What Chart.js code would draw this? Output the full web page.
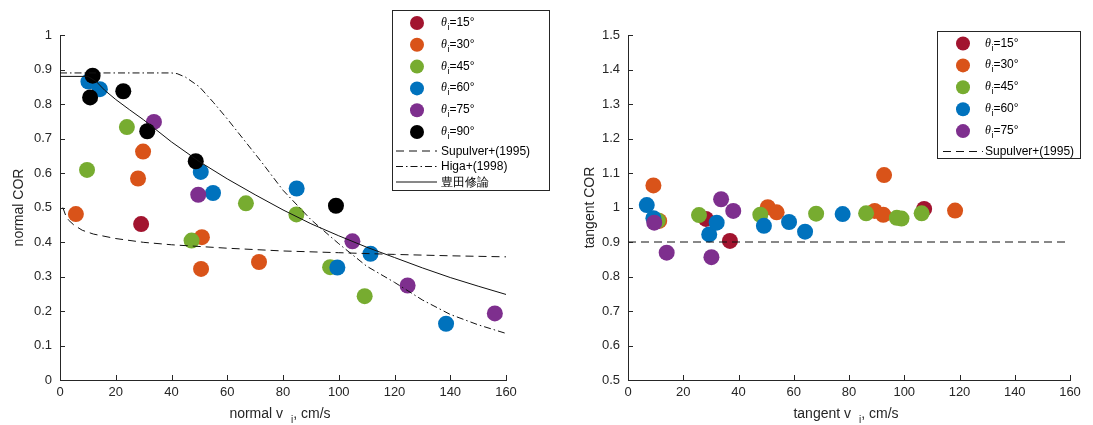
<!DOCTYPE html>
<html>
<head>
<meta charset="utf-8">
<script src="https://cdn.jsdelivr.net/npm/chart.js@4.4.1/dist/chart.umd.min.js"></script>
<style>
  body { margin: 0; background: #fff; }
  #wrap { position: relative; width: 1093px; height: 425px; overflow: hidden; }
  .panel { position: absolute; top: 0; height: 425px; }
</style>
</head>
<body>
<div id="wrap">
  <div class="panel" style="left:0;width:560px"><canvas id="normalChart"></canvas></div>
  <div class="panel" style="left:560px;width:533px"><canvas id="tangentChart"></canvas></div>
</div>
<script>
// incidence angles and their colours
const angleNames = ["15", "30", "45", "60", "75", "90"];
const angleColors = ["#A2142F", "#D95319", "#77AC30", "#0072BD", "#7E2F8E", "#000000"];

// normal COR vs normal v_i  [v, cor]
const normal15 = [[29.1, 0.452]];
const normal30 = [[5.7, 0.481], [29.8, 0.662], [28.0, 0.584], [50.9, 0.414], [50.6, 0.322], [71.4, 0.342]];
const normal45 = [[9.7, 0.609], [24.0, 0.733], [47.2, 0.404], [66.7, 0.512], [84.8, 0.480], [96.9, 0.327], [109.3, 0.243]];
const normal60 = [[10.2, 0.865], [14.3, 0.843], [50.5, 0.603], [54.9, 0.542], [84.9, 0.555], [111.4, 0.366], [99.5, 0.326], [138.5, 0.163]];
const normal75 = [[33.7, 0.748], [49.6, 0.537], [104.9, 0.402], [124.7, 0.274], [156.0, 0.193]];
const normal90 = [[11.7, 0.882], [10.8, 0.819], [22.7, 0.837], [31.3, 0.721], [48.7, 0.634], [99.0, 0.505]];

// tangent COR vs tangent v_i  [v, cor]
const tangent15 = [[28.2, 0.967], [36.9, 0.903], [107.2, 0.996]];
const tangent30 = [[9.2, 1.064], [11.3, 0.961], [50.6, 1.001], [53.8, 0.986], [89.3, 0.990], [92.7, 1.094], [92.4, 0.979], [118.4, 0.991]];
const tangent45 = [[10.8, 0.962], [25.7, 0.978], [47.9, 0.979], [68.1, 0.982], [86.2, 0.983], [97.3, 0.970], [99.0, 0.968], [106.3, 0.983]];
const tangent60 = [[6.8, 1.007], [9.2, 0.969], [29.4, 0.922], [32.1, 0.956], [49.2, 0.947], [58.3, 0.958], [64.1, 0.930], [77.7, 0.981]];
const tangent75 = [[9.5, 0.956], [14.0, 0.869], [30.2, 0.856], [33.7, 1.024], [38.1, 0.990]];

// model curves
const supulverV = [1, 2, 3, 5, 8, 12, 20, 30, 40, 60, 80, 100, 120, 140, 160];
const supulverCor = [0.50, 0.478, 0.464, 0.449, 0.434, 0.423, 0.410, 0.399, 0.392, 0.382, 0.374, 0.369, 0.364, 0.360, 0.357];
const higaV = [0, 20, 40, 42, 45, 50, 55, 60, 66, 72, 80, 90, 100, 110, 120, 130, 140, 150, 160];
const higaCor = [0.89, 0.89, 0.89, 0.888, 0.878, 0.85, 0.805, 0.757, 0.696, 0.635, 0.55, 0.465, 0.395, 0.33, 0.283, 0.232, 0.19, 0.16, 0.135];
const toyodaV = [0, 10, 13, 16, 20, 25, 30, 40, 50, 60, 70, 80, 90, 100, 110, 120, 130, 140, 150, 160];
const toyodaCor = [0.88, 0.88, 0.865, 0.84, 0.813, 0.783, 0.754, 0.69, 0.633, 0.583, 0.537, 0.493, 0.453, 0.418, 0.385, 0.355, 0.325, 0.297, 0.272, 0.248];
const supulverTanV = [0, 160];
const supulverTanCor = [0.9, 0.9];

// tick labels
const vTicks = [0, 20, 40, 60, 80, 100, 120, 140, 160];
const normalTicks = [0, 0.1, 0.2, 0.3, 0.4, 0.5, 0.6, 0.7, 0.8, 0.9, 1];
const tangentTicks = [0.5, 0.6, 0.7, 0.8, 0.9, 1, 1.1, 1.2, 1.3, 1.4, 1.5];

const SANS = "'Liberation Sans', Helvetica, Arial, sans-serif";
const axisColor = "#262626";
const DASH = [8, 5];
const DASHDOT = [7, 3, 1.5, 3];

function pts(pairs) {
  return pairs.map(([x, y]) => ({ x, y }));
}

function curve(xs, ys) {
  return xs.map((x, i) => ({ x, y: ys[i] }));
}

function scatterSets(sets) {
  return sets.map((pairs, i) => ({
    label: angleNames[i],
    data: pts(pairs),
    showLine: false,
    pointRadius: 8,
    pointHoverRadius: 8,
    pointBorderWidth: 0,
    pointBackgroundColor: angleColors[i],
    order: 10 - i,
  }));
}

function lineSet(label, data, dash) {
  return {
    label,
    data,
    showLine: true,
    pointRadius: 0,
    borderColor: "#111",
    borderWidth: 1,
    borderDash: dash,
    order: 0,
  };
}

function fmt(v) {
  return String(Number(v.toFixed(1)));
}

function drawRun(ctx, parts, x, y, centered) {
  let total = 0;
  parts.forEach((p) => {
    ctx.font = p.font;
    total += (p.gap || 0) + ctx.measureText(p.text).width;
  });
  let cx = centered ? x - total / 2 : x;
  ctx.textAlign = "left";
  ctx.textBaseline = "alphabetic";
  parts.forEach((p) => {
    ctx.font = p.font;
    cx += p.gap || 0;
    ctx.fillText(p.text, cx, y + (p.dy || 0));
    cx += ctx.measureText(p.text).width;
  });
}

function thetaLabel(deg) {
  return [
    { text: "θ", font: "italic 12px 'Liberation Serif', serif" },
    { text: "i", font: "9px " + SANS, dy: 4, gap: 0.5 },
    { text: "=" + deg + "°", font: "12px " + SANS },
  ];
}

const matlabAxes = {
  id: "matlabAxes",
  afterDatasetsDraw(chart, args, opts) {
    const { ctx, chartArea: area, scales: { x, y } } = chart;
    ctx.save();
    ctx.strokeStyle = axisColor;
    ctx.lineWidth = 1;
    ctx.setLineDash([]);
    ctx.beginPath();
    x.ticks.forEach((t) => {
      const px = Math.round(x.getPixelForValue(t.value)) + 0.5;
      ctx.moveTo(px, area.bottom);
      ctx.lineTo(px, area.bottom - 5);
    });
    y.ticks.forEach((t) => {
      const py = Math.round(y.getPixelForValue(t.value)) + 0.5;
      ctx.moveTo(area.left, py);
      ctx.lineTo(area.left + 5, py);
    });
    ctx.stroke();

    ctx.fillStyle = axisColor;
    drawRun(ctx, [
      { text: opts.xTitle, font: "14px " + SANS },
      { text: "i", font: "10px " + SANS, dy: 5, gap: 8 },
      { text: ", cm/s", font: "14px " + SANS },
    ], (area.left + area.right) / 2 - 3, opts.xTitleY, true);

    ctx.translate(opts.yTitleX, (area.top + area.bottom) / 2);
    ctx.rotate(-Math.PI / 2);
    ctx.font = "14px " + SANS;
    ctx.textAlign = "center";
    ctx.textBaseline = "middle";
    ctx.fillText(opts.yTitle, 0, 0);
    ctx.restore();
  },
  afterDraw(chart, args, opts) {
    const L = opts.legend;
    const ctx = chart.ctx;
    ctx.save();
    ctx.fillStyle = "#fff";
    ctx.fillRect(L.x, L.y, L.w, L.h);
    ctx.strokeStyle = axisColor;
    ctx.lineWidth = 1;
    ctx.strokeRect(L.x + 0.5, L.y + 0.5, L.w, L.h);
    L.markers.forEach((i, k) => {
      const cy = L.markerY + k * L.markerStep;
      ctx.fillStyle = angleColors[i];
      ctx.beginPath();
      ctx.arc(L.x + L.markerX, cy, 7, 0, Math.PI * 2);
      ctx.fill();
      ctx.fillStyle = "#000";
      drawRun(ctx, thetaLabel(angleNames[i]), L.x + L.textX, cy + 3, false);
    });
    L.lines.forEach((ln, k) => {
      const cy = L.lineY + k * L.lineStep;
      ctx.strokeStyle = "#111";
      ctx.setLineDash(ln.dash);
      ctx.beginPath();
      ctx.moveTo(L.x + L.lineX0, cy + 0.5);
      ctx.lineTo(L.x + L.lineX1, cy + 0.5);
      ctx.stroke();
      ctx.setLineDash([]);
      ctx.fillStyle = "#000";
      ctx.font = "12px " + SANS;
      ctx.textAlign = "left";
      ctx.textBaseline = "middle";
      ctx.fillText(ln.text, L.x + L.textX, cy + 1);
    });
    ctx.restore();
  },
};

function axisOptions(ticks, min, max, fixedSize, isX) {
  return {
    type: "linear",
    min,
    max,
    grid: { display: false, drawTicks: false },
    border: { display: true, color: axisColor, width: 1 },
    afterBuildTicks: (s) => { s.ticks = ticks.map((v) => ({ value: v })); },
    afterFit: (s) => { if (isX) s.height = fixedSize; else s.width = fixedSize; },
    ticks: {
      autoSkip: false,
      maxRotation: 0,
      padding: isX ? 5 : 8,
      color: axisColor,
      font: { family: SANS, size: 13 },
      callback: (v) => fmt(v),
    },
  };
}

function makeChart(id, datasets, cfg) {
  return new Chart(document.getElementById(id), {
    type: "scatter",
    data: { datasets },
    options: {
      responsive: true,
      maintainAspectRatio: false,
      animation: false,
      layout: { padding: cfg.padding },
      plugins: {
        legend: { display: false },
        tooltip: { enabled: false },
        matlabAxes: cfg.axes,
      },
      scales: {
        x: axisOptions(vTicks, 0, 160, 45, true),
        y: axisOptions(cfg.yTicks, cfg.yMin, cfg.yMax, cfg.yWidth, false),
      },
    },
    plugins: [matlabAxes],
  });
}

makeChart("normalChart", [
  ...scatterSets([normal15, normal30, normal45, normal60, normal75, normal90]),
  lineSet("Supulver+(1995)", curve(supulverV, supulverCor), DASH),
  lineSet("Higa+(1998)", curve(higaV, higaCor), DASHDOT),
  lineSet("豊田修論", curve(toyodaV, toyodaCor), []),
], {
  padding: { top: 35, right: 54, bottom: 0, left: 0 },
  yTicks: normalTicks, yMin: 0, yMax: 1, yWidth: 60,
  axes: {
    xTitle: "normal v", xTitleY: 418, yTitle: "normal COR", yTitleX: 19,
    legend: {
      x: 392, y: 10, w: 157, h: 180,
      markerX: 25, textX: 49, markerY: 23, markerStep: 21.8, markers: [0, 1, 2, 3, 4, 5],
      lineX0: 4, lineX1: 45, lineY: 150.5, lineStep: 15.5,
      lines: [
        { text: "Supulver+(1995)", dash: DASH },
        { text: "Higa+(1998)", dash: DASHDOT },
        { text: "豊田修論", dash: [] },
      ],
    },
  },
});

makeChart("tangentChart", [
  ...scatterSets([tangent15, tangent30, tangent45, tangent60, tangent75]),
  lineSet("Supulver+(1995)", curve(supulverTanV, supulverTanCor), DASH),
], {
  padding: { top: 35, right: 23, bottom: 0, left: 0 },
  yTicks: tangentTicks, yMin: 0.5, yMax: 1.5, yWidth: 68,
  axes: {
    xTitle: "tangent v", xTitleY: 418, yTitle: "tangent COR", yTitleX: 30,
    legend: {
      x: 377, y: 31, w: 143, h: 127,
      markerX: 26, textX: 48, markerY: 43.5, markerStep: 21.9, markers: [0, 1, 2, 3, 4],
      lineX0: 6, lineX1: 46, lineY: 151, lineStep: 15,
      lines: [{ text: "Supulver+(1995)", dash: DASH }],
    },
  },
});
</script>
</body>
</html>
